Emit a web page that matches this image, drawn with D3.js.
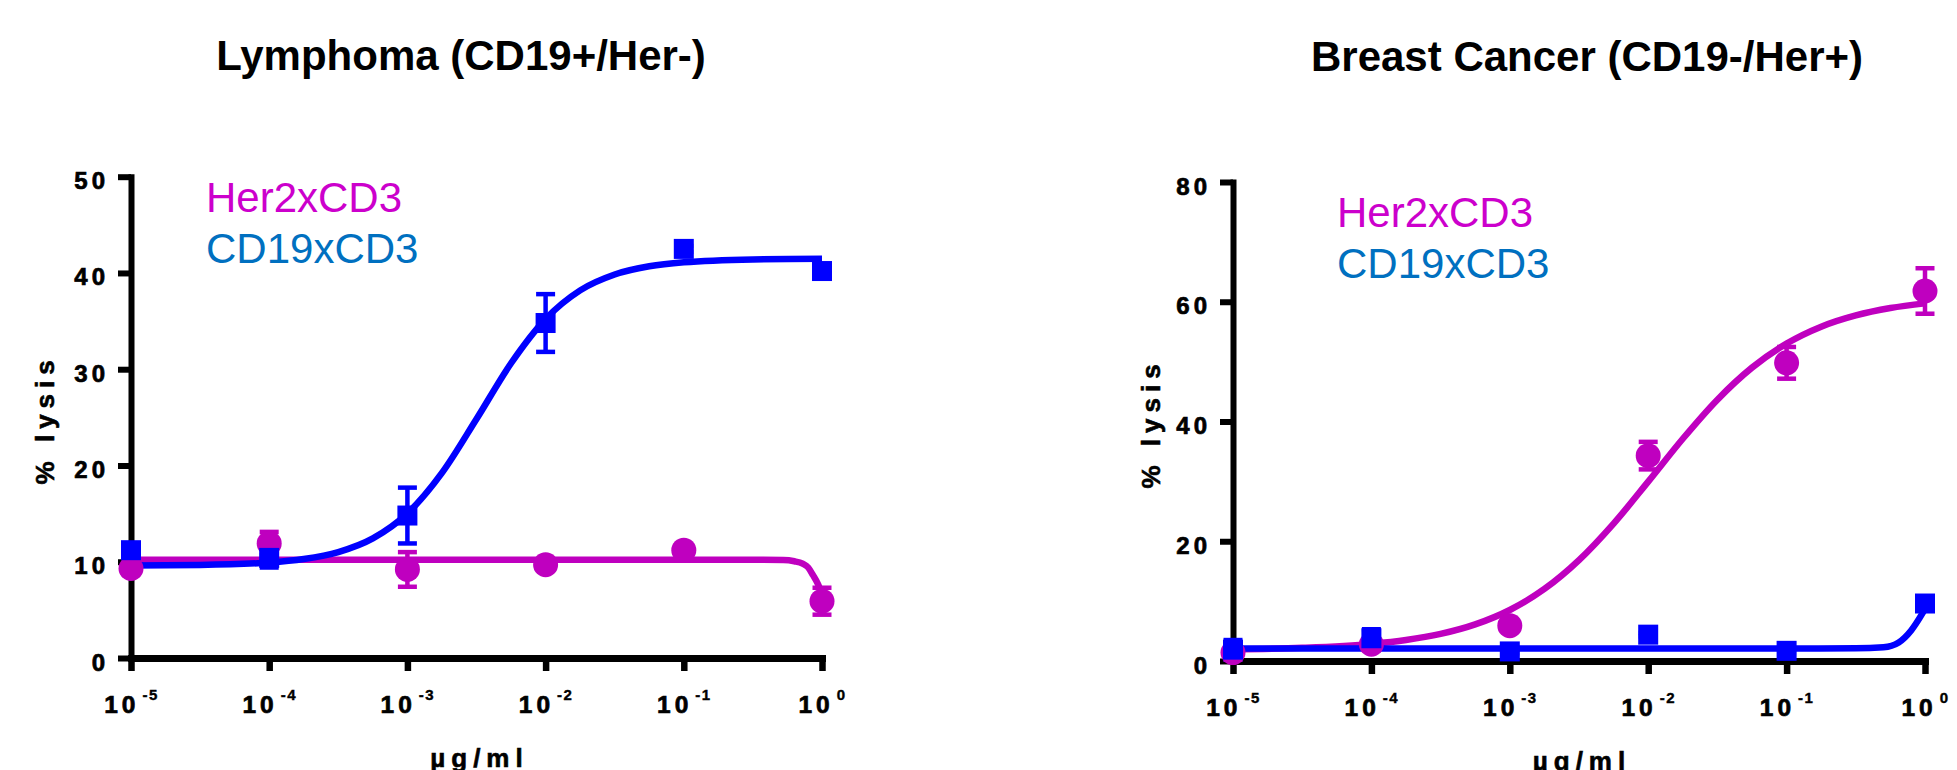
<!DOCTYPE html>
<html>
<head>
<meta charset="utf-8">
<script src="https://cdn.jsdelivr.net/npm/d3@7"></script>
<style>
  html, body { margin: 0; padding: 0; background: #fff; }
  svg { display: block; font-family: "Liberation Sans", Arial, Helvetica, sans-serif; }
</style>
</head>
<body>
<svg id="chart" width="1957" height="770"></svg>
<script>
// concentrations, given as log10(µg/ml)
const concLog = [-5, -4, -3, -2, -1, 0];
const xTickExp = ["-5", "-4", "-3", "-2", "-1", "0"];
const seriesNames = ["Her2xCD3", "CD19xCD3"];

// Lymphoma (CD19+/Her-)
const lymphYTicks = [0, 10, 20, 30, 40, 50];
const lymphHer2 = [9.3, 11.9, 9.2, 9.7, 11.2, 5.9];
const lymphHer2Err = [0.6, 1.2, 1.8, 0.3, 0.3, 1.4];
const lymphCd19 = [11.2, 10.4, 14.8, 34.8, 42.5, 40.2];
const lymphCd19Err = [0.5, 1.0, 2.9, 3.0, 0.3, 0.6];
// fitted curves
const lymphHer2FitX = [-5, -4, -3, -2, -1, -0.5, -0.28, -0.2, -0.14, -0.1, -0.065, -0.03, 0];
const lymphHer2Fit  = [10.2, 10.2, 10.2, 10.2, 10.2, 10.2, 10.18, 10.05, 9.8, 9.4, 8.6, 7.7, 6.6];
const lymphCd19FitX = [-5, -4.5, -4, -3.75, -3.5, -3.25, -3, -2.75, -2.5, -2.25, -2, -1.75, -1.5, -1.25, -1, -0.5, 0];
const lymphCd19Fit  = [9.62, 9.67, 9.92, 10.28, 11.0, 12.42, 15.02, 19.23, 24.83, 30.62, 35.22, 38.19, 39.84, 40.69, 41.11, 41.41, 41.48];

// Breast Cancer (CD19-/Her+)
const breastYTicks = [0, 20, 40, 60, 80];
const breastHer2 = [1.4, 2.8, 5.9, 34.3, 49.8, 61.8];
const breastHer2Err = [1.2, 1.0, 0.5, 2.3, 2.65, 3.8];
const breastCd19 = [1.9, 3.8, 1.6, 4.4, 1.7, 9.6];
const breastCd19Err = [1.6, 1.5, 0.3, 0.3, 0.4, 0.5];
const breastHer2FitX = [-5, -4.5, -4, -3.75, -3.5, -3.25, -3, -2.75, -2.5, -2.25, -2, -1.75, -1.5, -1.25, -1, -0.75, -0.5, -0.25, 0];
const breastHer2Fit  = [1.95, 2.2, 2.85, 3.5, 4.52, 6.11, 8.52, 12.03, 16.85, 22.95, 29.95, 37.12, 43.65, 49.0, 53.02, 55.84, 57.72, 58.95, 59.73];
const breastCd19FitX = [-5, -4, -3, -2, -1, -0.5, -0.3, -0.19, -0.1, -0.02, 0];
const breastCd19Fit  = [2.1, 2.1, 2.1, 2.1, 2.1, 2.12, 2.3, 3.1, 5.1, 7.9, 8.7];

const magenta = "#BF00BF", blue = "#0000FF";
const legendColors = ["#CC00CC", "#0070C0"];

const panels = [
	{ title: "Lymphoma (CD19+/Her-)", titleX: 461, titleY: 70,
	  xRange: [131, 822], yRange: [658, 176.7], yMax: 50, yTicks: lymphYTicks,
	  legendX: 206, legendY: 212, yTitleX: 54,
	  her2: lymphHer2, her2Err: lymphHer2Err, cd19: lymphCd19, cd19Err: lymphCd19Err,
	  her2Fit: [lymphHer2FitX, lymphHer2Fit], cd19Fit: [lymphCd19FitX, lymphCd19Fit] },
	{ title: "Breast Cancer (CD19-/Her+)", titleX: 1587, titleY: 71,
	  xRange: [1233, 1925], yRange: [661, 182], yMax: 80, yTicks: breastYTicks,
	  legendX: 1337, legendY: 227, yTitleX: 1160,
	  her2: breastHer2, her2Err: breastHer2Err, cd19: breastCd19, cd19Err: breastCd19Err,
	  her2Fit: [breastHer2FitX, breastHer2Fit], cd19Fit: [breastCd19FitX, breastCd19Fit] }
];

const svg = d3.select("#chart");

const drawPanel = (p) => {
	const x = d3.scaleLog().domain([1e-5, 1]).range(p.xRange);
	const y = d3.scaleLinear().domain([0, p.yMax]).range(p.yRange);
	const g = svg.append("g");

	// title
	g.append("text")
		.attr("x", p.titleX).attr("y", p.titleY)
		.attr("text-anchor", "middle")
		.attr("font-size", 42).attr("font-weight", "bold")
		.text(p.title);

	// legend
	seriesNames.forEach((name, i) => {
		g.append("text")
			.attr("x", p.legendX).attr("y", p.legendY + i * 50.5)
			.attr("font-size", 42)
			.attr("fill", legendColors[i])
			.text(name);
	});

	// y axis
	const yAxis = g.append("g")
		.attr("transform", `translate(${p.xRange[0]},0)`)
		.call(d3.axisLeft(y).tickValues(p.yTicks).tickSize(13).tickSizeOuter(0).tickPadding(13));
	yAxis.select(".domain").attr("stroke", "#000").attr("stroke-width", 6).attr("stroke-linecap", "square");
	yAxis.selectAll(".tick line").attr("stroke", "#000").attr("stroke-width", 6);
	yAxis.selectAll(".tick text")
		.attr("dy", 12).attr("dx", 4)
		.attr("font-size", 24).attr("font-weight", "bold")
		.attr("letter-spacing", 4)
		.attr("fill", "#000")
		.attr("stroke", "#000").attr("stroke-width", 0.7)
		.attr("font-family", null);

	// x axis
	const xAxis = g.append("g")
		.attr("transform", `translate(0,${p.yRange[0]})`)
		.call(d3.axisBottom(x).tickValues(concLog.map(v => 10 ** v)).tickSize(13).tickSizeOuter(0).tickFormat(() => ""));
	xAxis.select(".domain").attr("stroke", "#000").attr("stroke-width", 7).attr("stroke-linecap", "square");
	xAxis.selectAll(".tick line").attr("stroke", "#000").attr("stroke-width", 6.5);
	xAxis.selectAll(".tick text").each(function(d, i) {
		const t = d3.select(this)
			.attr("y", 54.7).attr("dy", null)
			.attr("font-family", null)
			.attr("font-weight", "bold").attr("fill", "#000")
			.attr("stroke", "#000").attr("stroke-width", 0.7);
		t.append("tspan").attr("font-size", 24.5).attr("letter-spacing", 4).text("10");
		t.append("tspan").attr("font-size", 15).attr("letter-spacing", 1.5).attr("stroke-width", 0.4)
			.attr("dy", -12.7).attr("dx", 3).text(xTickExp[i]);
	});

	// axis titles
	const yMid = (p.yRange[0] + p.yRange[1]) / 2;
	g.append("text")
		.attr("transform", `translate(${p.yTitleX},${yMid + 2}) rotate(-90)`)
		.attr("text-anchor", "middle")
		.attr("font-size", 26).attr("font-weight", "bold")
		.attr("letter-spacing", 6)
		.attr("stroke", "#000").attr("stroke-width", 0.6)
		.text("% lysis");
	g.append("text")
		.attr("x", (p.xRange[0] + p.xRange[1]) / 2 + 3).attr("y", p.yRange[0] + 109)
		.attr("text-anchor", "middle")
		.attr("font-size", 26).attr("font-weight", "bold")
		.attr("letter-spacing", 6)
		.attr("stroke", "#000").attr("stroke-width", 0.6)
		.text("µg/ml");

	// fitted curves
	const line = d3.line()
		.x(d => x(10 ** d[0]))
		.y(d => y(d[1]))
		.curve(d3.curveMonotoneX);
	const fitPath = (fit, color) => g.append("path")
		.datum(d3.zip(fit[0], fit[1]))
		.attr("d", line)
		.attr("fill", "none")
		.attr("stroke", color)
		.attr("stroke-width", 6.5);
	fitPath(p.her2Fit, magenta);
	fitPath(p.cd19Fit, blue);

	// error bars
	const errBars = (vals, errs, color) => {
		const data = concLog.map((c, i) => ({ c: c, v: vals[i], e: errs[i] }));
		const eb = g.append("g").attr("stroke", color).attr("stroke-width", 4.5);
		eb.selectAll(".stem").data(data).enter().append("line")
			.attr("x1", d => x(10 ** d.c)).attr("x2", d => x(10 ** d.c))
			.attr("y1", d => y(d.v - d.e)).attr("y2", d => y(d.v + d.e));
		eb.selectAll(".capTop").data(data).enter().append("line")
			.attr("x1", d => x(10 ** d.c) - 9.5).attr("x2", d => x(10 ** d.c) + 9.5)
			.attr("y1", d => y(d.v + d.e)).attr("y2", d => y(d.v + d.e));
		eb.selectAll(".capBot").data(data).enter().append("line")
			.attr("x1", d => x(10 ** d.c) - 9.5).attr("x2", d => x(10 ** d.c) + 9.5)
			.attr("y1", d => y(d.v - d.e)).attr("y2", d => y(d.v - d.e));
	};
	errBars(p.her2, p.her2Err, magenta);
	errBars(p.cd19, p.cd19Err, blue);

	// markers
	g.selectAll(".her2").data(p.her2).enter().append("circle")
		.attr("cx", (d, i) => x(10 ** concLog[i]))
		.attr("cy", d => y(d))
		.attr("r", 12.5)
		.attr("fill", magenta);
	g.selectAll(".cd19").data(p.cd19).enter().append("rect")
		.attr("x", (d, i) => x(10 ** concLog[i]) - 10)
		.attr("y", d => y(d) - 10)
		.attr("width", 20).attr("height", 20)
		.attr("fill", blue);
};

panels.forEach(drawPanel);
</script>
</body>
</html>
